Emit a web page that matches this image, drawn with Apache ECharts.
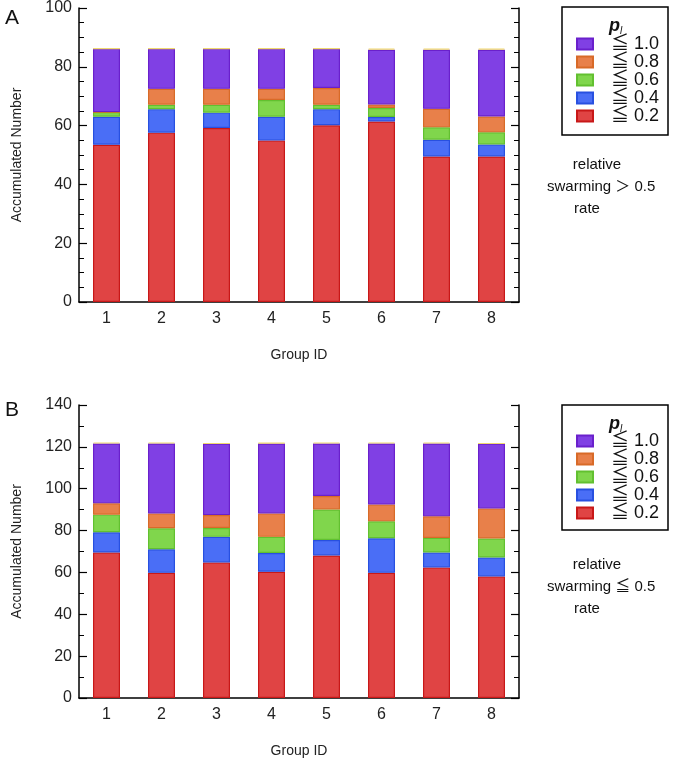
<!DOCTYPE html>
<html>
<head>
<meta charset="utf-8">
<script src="https://cdn.jsdelivr.net/npm/echarts@6/dist/echarts.min.js"></script>
<style>html,body{margin:0;padding:0;background:#fff}#c{width:677px;height:759px}</style>
</head>
<body>
<div id="c"></div>
<script>
// ---- data ----
var groups = ['1','2','3','4','5','6','7','8'];
var seriesNames = ['≦ 0.2','≦ 0.4','≦ 0.6','≦ 0.8','≦ 1.0','other'];
// Panel A (relative swarming rate > 0.5)
var aRed    = [53.5, 57.6, 59.2, 54.9, 60.1, 61.4, 49.5, 49.5];
var aBlue   = [9.5, 8.0, 5.2, 8.1, 5.5, 1.5, 5.7, 4.1];
var aGreen  = [1.6, 1.5, 2.7, 5.7, 1.5, 3.1, 4.2, 4.1];
var aOrange = [0, 5.4, 5.4, 3.8, 5.7, 1.2, 6.3, 5.4];
var aPurple = [21.6, 13.7, 13.7, 13.7, 13.4, 18.6, 20.1, 22.7];
var aYellow = [0, 0, 0, 0, 0, 0.4, 0.4, 0.4];
// Panel B (relative swarming rate <= 0.5)
var bRed    = [69.5, 59.8, 64.8, 60.3, 68.1, 59.8, 62.4, 58.1];
var bBlue   = [9.7, 11.3, 12.2, 9.0, 7.4, 16.5, 7.1, 9.0];
var bGreen  = [8.4, 10.0, 4.2, 7.7, 14.6, 8.1, 7.0, 9.1];
var bOrange = [5.4, 7.1, 6.2, 11.2, 6.4, 8.0, 10.3, 14.4];
var bPurple = [28.6, 33.4, 34.2, 33.4, 25.1, 29.2, 34.8, 31.0];
var bYellow = [0.5, 0.5, 0, 0.3, 0.5, 0.5, 0.5, 0];
var yTicksA = {min: 0, max: 100, interval: 20};
var yTicksB = {min: 0, max: 140, interval: 20};

// ---- styles ----
var fills   = ['#E04444', '#4A6EF6', '#80D64C', '#E8804A', '#8040E4', '#F8E890'];
var borders = ['#C81818', '#2850E0', '#62C030', '#D86A28', '#6A20CC', '#F0D870'];
var FONT = 'Liberation Sans, Arial, Noto Sans CJK JP, sans-serif';

function mkSeries(arrs, idx) {
  return arrs.map(function (d, i) {
    return {
      name: seriesNames[i], type: 'bar', stack: 's' + idx,
      xAxisIndex: idx, yAxisIndex: idx * 2,
      barWidth: 27, data: d,
      itemStyle: {color: fills[i], borderColor: borders[i], borderWidth: 1.2},
      emphasis: {disabled: true}, animation: false
    };
  });
}

function xAx(grid) {
  return {
    type: 'category', gridIndex: grid, data: groups,
    name: 'Group ID', nameLocation: 'middle', nameGap: 46,
    nameTextStyle: {fontSize: 14, color: '#222', fontFamily: FONT},
    axisLine: {lineStyle: {color: '#000', width: 1.5}},
    axisTick: {inside: true, length: 7, lineStyle: {color: '#000', width: 1.2}},
    axisLabel: {fontSize: 16, color: '#222', margin: 9, fontFamily: FONT},
    splitLine: {show: false}
  };
}
function yAx(grid, t, minor) {
  return [{
    type: 'value', gridIndex: grid, min: t.min, max: t.max, interval: t.interval,
    name: 'Accumulated Number', nameLocation: 'middle', nameGap: 55, nameRotate: 90,
    nameTextStyle: {fontSize: 14, color: '#222', fontFamily: FONT},
    axisLine: {show: true, lineStyle: {color: '#000', width: 1.5}},
    axisTick: {show: true, inside: true, length: 8, lineStyle: {color: '#000', width: 1.2}},
    minorTick: {show: true, splitNumber: minor, length: 5, lineStyle: {color: '#000', width: 1}},
    axisLabel: {fontSize: 16, color: '#222', margin: 7, fontFamily: FONT},
    splitLine: {show: false}
  }, {
    type: 'value', gridIndex: grid, position: 'right', min: t.min, max: t.max, interval: t.interval,
    axisLine: {show: true, lineStyle: {color: '#000', width: 1.5}},
    axisTick: {show: true, inside: true, length: 8, lineStyle: {color: '#000', width: 1.2}},
    minorTick: {show: true, splitNumber: minor, length: 5, lineStyle: {color: '#000', width: 1}},
    axisLabel: {show: false}, splitLine: {show: false}
  }];
}

function legend(top) {
  return {
    data: ['≦ 1.0','≦ 0.8','≦ 0.6','≦ 0.4','≦ 0.2'],
    orient: 'vertical', left: 576, top: top, padding: 0,
    icon: 'rect', itemWidth: 16, itemHeight: 11, itemGap: 0, selectedMode: false,
    textStyle: {fontSize: 18, color: '#111', fontFamily: FONT, padding: [0, 0, 0, 13]}
  };
}

function legendBox(top, h) {
  return [
    {type: 'rect', shape: {x: 562, y: top, width: 106, height: h},
     style: {fill: 'none', stroke: '#000', lineWidth: 1.5}},
    {type: 'text', x: 609, y: top + 9,
     style: {text: '{p|p}{s|l}', rich: {
       p: {fontSize: 18, fontStyle: 'italic', fontWeight: 'bold', fontFamily: FONT, fill: '#111'},
       s: {fontSize: 10, fontStyle: 'italic', fontFamily: FONT, fill: '#111', padding: [10, 0, 0, 0]}}}}
  ];
}

function sideText(cy, rel) {
  return [
    {type: 'text', x: 597, y: cy - 22, style: {text: 'relative', fontSize: 15, fill: '#111', fontFamily: FONT, align: 'center', verticalAlign: 'middle'}},
    {type: 'text', x: 547, y: cy, style: {text: 'swarming ' + rel + ' 0.5', fontSize: 15, fill: '#111', fontFamily: FONT, align: 'left', verticalAlign: 'middle'}},
    {type: 'text', x: 587, y: cy + 22, style: {text: 'rate', fontSize: 15, fill: '#111', fontFamily: FONT, align: 'center', verticalAlign: 'middle'}}
  ];
}

var ya = yAx(0, yTicksA, 4), yb = yAx(1, yTicksB, 2);
var option = {
  backgroundColor: '#fff',
  animation: false,
  grid: [
    {left: 79, top: 8, width: 440, height: 294},
    {left: 79, top: 405, width: 440, height: 294}
  ],
  xAxis: [xAx(0), xAx(1)],
  yAxis: [ya[0], ya[1], yb[0], yb[1]],
  legend: [legend(35), legend(432)],
  series: mkSeries([aRed, aBlue, aGreen, aOrange, aPurple, aYellow], 0)
    .concat(mkSeries([bRed, bBlue, bGreen, bOrange, bPurple, bYellow], 1)),
  graphic: [
    {type: 'text', x: 5, y: 8, style: {text: 'A', fontSize: 21, fill: '#111', fontFamily: FONT}},
    {type: 'text', x: 5, y: 400, style: {text: 'B', fontSize: 21, fill: '#111', fontFamily: FONT}}
  ].concat(legendBox(7, 128), legendBox(405, 125), sideText(187, '＞'), sideText(587, '≦'))
};
echarts.init(document.getElementById('c'), null, {renderer: 'canvas'}).setOption(option);
</script>
</body>
</html>
